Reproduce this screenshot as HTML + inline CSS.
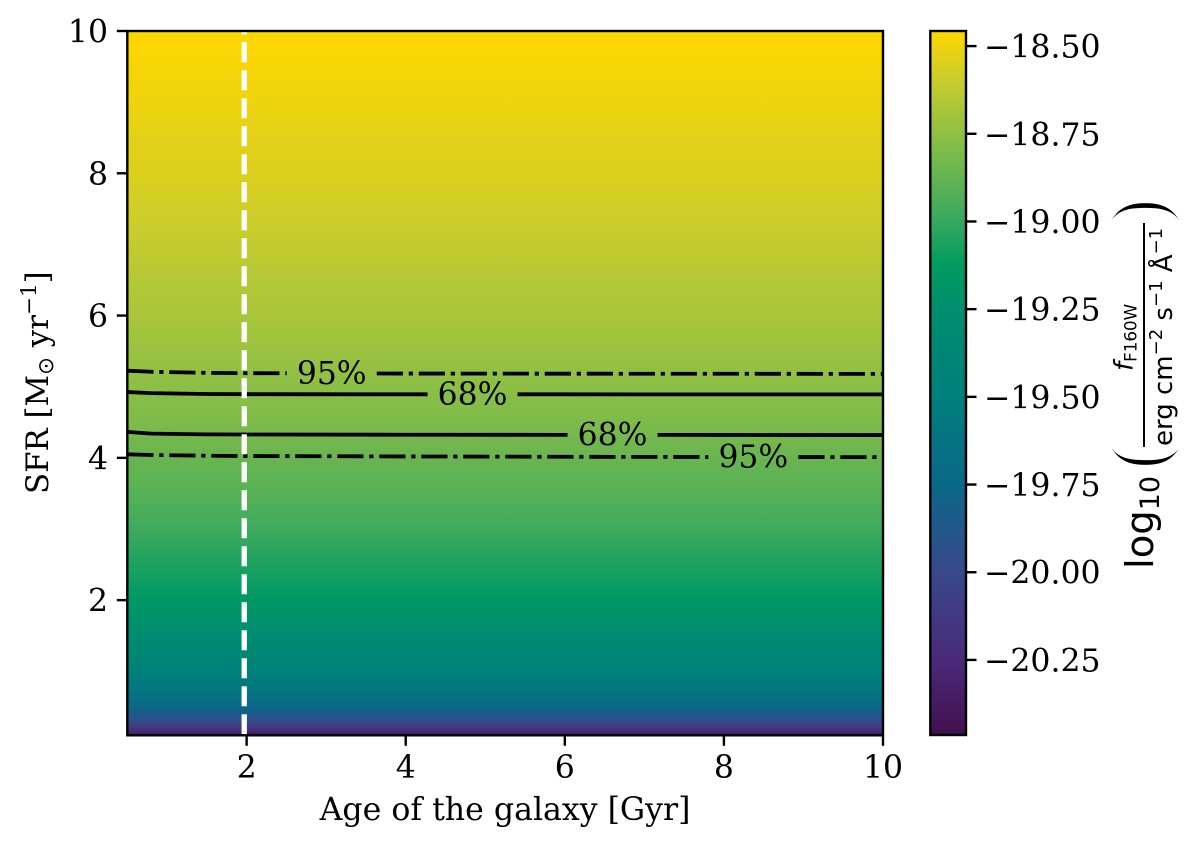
<!DOCTYPE html>
<html lang="en">
<head>
<meta charset="utf-8">
<title>SFR versus galaxy age flux map</title>
<style>
html,body{margin:0;padding:0;background:#fff;width:1200px;height:846px;overflow:hidden}
svg{display:block;filter:blur(0.35px)}
text{font-family:"DejaVu Serif","Liberation Serif",serif;fill:#000}
.s{font-family:"DejaVu Sans","Liberation Sans",sans-serif}
.p{font-family:"Liberation Serif","DejaVu Serif",serif;stroke:#fff;stroke-width:3px}
</style>
</head>
<body>
<svg id="chart" xmlns="http://www.w3.org/2000/svg" width="1200" height="846" viewBox="0 0 1200 846">
  <defs id="defs"></defs>
  <g id="image-layer"></g>
  <g id="contour-layer"></g>
  <g id="line-layer"></g>
  <g id="frame-layer"></g>
  <g id="x-ticks"></g>
  <g id="y-ticks"></g>
  <g id="colorbar"></g>

  <text x="505" y="820" font-size="31.6" text-anchor="middle">Age of the galaxy [Gyr]</text>

  <text transform="translate(48,494) rotate(-90)" font-size="30.8">SFR [M<tspan font-size="21.5" dy="5" class="s">⊙</tspan><tspan dy="-5"> yr</tspan><tspan font-size="21.5" dy="-12">−1</tspan><tspan dy="12">]</tspan></text>

  <g>
    <text class="p" transform="translate(1165,470) rotate(-90)" font-size="82">(</text>
    <text class="p" transform="translate(1165,198) rotate(-90)" font-size="82" text-anchor="end">)</text>
    <text class="s" transform="translate(1153,569) rotate(-90)" font-size="38.5">log<tspan font-size="27" dy="6">10</tspan></text>
    <text class="s" transform="translate(1132.7,371) rotate(-90)" font-size="26"><tspan font-style="italic">f</tspan><tspan font-size="16.7" dy="4">F160W</tspan></text>
    <rect x="1143" y="223" width="2" height="224" fill="#000"></rect>
    <text class="s" transform="translate(1172,446) rotate(-90)" font-size="26">erg cm<tspan font-size="18" dy="-10">−2</tspan><tspan dy="10"> s</tspan><tspan font-size="18" dy="-10">−1</tspan><tspan dy="10"> Å</tspan><tspan font-size="18" dy="-10">−1</tspan></text>
  </g>
</svg>

<script>
// Heatmap rows: SFR level and log10 flux at that level
const sfrRows = [0.1,0.13,0.16,0.2,0.25,0.3,0.4,0.5,0.65,0.8,1,1.25,1.5,2,2.5,3,3.5,4,4.5,5,5.5,6,6.5,7,7.5,8,8.5,9,9.5,10];
const fluxRows = [-20.46,-20.34,-20.25,-20.16,-20.06,-19.98,-19.86,-19.76,-19.64,-19.55,-19.46,-19.36,-19.28,-19.16,-19.06,-18.98,-18.91,-18.86,-18.80,-18.76,-18.72,-18.68,-18.65,-18.61,-18.58,-18.55,-18.53,-18.50,-18.48,-18.46];

// Colour scale anchors
const cmapValues = [-20.464,-20.25,-20.0,-19.75,-19.5,-19.25,-19.12,-19.0,-18.75,-18.6,-18.457];
const cmapColors = ['#440f50','#4a2a78','#38488a','#0a6888','#007f7c','#008e6e','#009c60','#38a860','#8fc044','#c8cc2e','#ffd700'];

// Contours: each has age samples, SFR samples, and a label position
const contourAges = [0.5,0.8,1.5,2,4,6,8,10];
const contour95Upper = [5.225,5.21,5.195,5.19,5.185,5.183,5.182,5.18];
const contour68Upper = [4.925,4.91,4.897,4.895,4.893,4.893,4.892,4.892];
const contour68Lower = [4.365,4.34,4.33,4.328,4.325,4.323,4.322,4.32];
const contour95Lower = [4.05,4.04,4.03,4.025,4.02,4.015,4.012,4.01];
const contourLabels = ['95%','68%','68%','95%'];
const contourLabelAges = [3.07,4.84,6.6,8.37];

// Vertical age marker
const markerAge = 1.97;

// Tick labels
const xTickValues = [2,4,6,8,10];
const yTickValues = [2,4,6,8,10];
const cbTickValues = [-18.5,-18.75,-19,-19.25,-19.5,-19.75,-20,-20.25];
const cbTickLabels = ['−18.50','−18.75','−19.00','−19.25','−19.50','−19.75','−20.00','−20.25'];

// Axis domains
const xDomain = [0.5,10];
const yDomain = [0.1,10];
const cbDomain = [-20.464,-18.457];

const NS = 'http://www.w3.org/2000/svg';
const plot = {l:127.3,r:883,t:31,b:735.3};
const bar = {l:930.3,r:966,t:31,b:735};
const xScale = v => plot.l + (v-xDomain[0])/(xDomain[1]-xDomain[0])*(plot.r-plot.l);
const yScale = v => plot.b - (v-yDomain[0])/(yDomain[1]-yDomain[0])*(plot.b-plot.t);
const cbScale = v => bar.b - (v-cbDomain[0])/(cbDomain[1]-cbDomain[0])*(bar.b-bar.t);

function make(tag, attrs, parent){
  const el = document.createElementNS(NS, tag);
  for (const k in attrs) el.setAttribute(k, attrs[k]);
  parent.appendChild(el);
  return el;
}
function hexToRgb(h){return [1,3,5].map(i=>parseInt(h.substr(i,2),16));}
function colorFor(v){
  if (v<=cmapValues[0]) return cmapColors[0];
  for (let i=1;i<cmapValues.length;i++){
    if (v<=cmapValues[i]){
      const f=(v-cmapValues[i-1])/(cmapValues[i]-cmapValues[i-1]);
      const a=hexToRgb(cmapColors[i-1]), b=hexToRgb(cmapColors[i]);
      return 'rgb('+a.map((c,j)=>Math.round(c+(b[j]-c)*f)).join(',')+')';
    }
  }
  return cmapColors[cmapColors.length-1];
}
const defs = document.getElementById('defs');
function bandGradient(id,y1,y2,c1,c2){
  const g = make('linearGradient',{id:id,gradientUnits:'userSpaceOnUse',x1:0,x2:0,y1:y1,y2:y2},defs);
  make('stop',{offset:0,'stop-color':c1},g);
  make('stop',{offset:1,'stop-color':c2},g);
}

// Heatmap bands
const imageLayer = document.getElementById('image-layer');
for (let i=0;i<sfrRows.length-1;i++){
  const y1=yScale(sfrRows[i]), y2=yScale(sfrRows[i+1]);
  bandGradient('band'+i,y1,y2,colorFor(fluxRows[i]),colorFor(fluxRows[i+1]));
  const r = make('rect',{x:plot.l,y:y2-0.3,width:plot.r-plot.l,height:y1-y2+0.6,fill:'url(#band'+i+')'},imageLayer);
  
  
}

// Contours, broken around their inline labels
const contourLayer = document.getElementById('contour-layer');
const contourSeries = [contour95Upper,contour68Upper,contour68Lower,contour95Lower];
const contourDashes = ['26.2 5.8 4.2 5.8','none','none','26.2 5.8 4.2 5.8'];
const gapPx = 45;
contourSeries.forEach((series,c)=>{
  const lx = xScale(contourLabelAges[c]);
  const pts = contourAges.map((a,i)=>[xScale(a),yScale(series[i])]);
  const at = x => { for(let i=1;i<pts.length;i++){ if(x<=pts[i][0]){const f=(x-pts[i-1][0])/(pts[i][0]-pts[i-1][0]);return pts[i-1][1]+(pts[i][1]-pts[i-1][1])*f;} } return pts[pts.length-1][1]; };
  const left = pts.filter(p=>p[0]<lx-gapPx).concat([[lx-gapPx,at(lx-gapPx)]]);
  const right = [[lx+gapPx,at(lx+gapPx)]].concat(pts.filter(p=>p[0]>lx+gapPx));
  [left,right].forEach(part=>{
    const p = make('polyline',{points:part.map(q=>q[0].toFixed(2)+','+q[1].toFixed(2)).join(' '),fill:'none',stroke:'#000','stroke-width':3.8,'stroke-dasharray':contourDashes[c]},contourLayer);
    
    
  });
  const t = make('text',{x:lx,y:(at(lx)+10.5).toFixed(1),'font-size':31.4,'text-anchor':'middle'},contourLayer);
  t.textContent = contourLabels[c];
  
  
});

// Vertical age marker
const marker = make('line',{x1:xScale(markerAge),x2:xScale(markerAge),y1:plot.t,y2:plot.b,stroke:'#fff','stroke-width':5.3,'stroke-dasharray':'19.9 8.1','stroke-dashoffset':16.7},document.getElementById('line-layer'));



// Frame
const frame = make('rect',{x:plot.l,y:plot.t,width:plot.r-plot.l,height:plot.b-plot.t,fill:'none',stroke:'#000','stroke-width':2.4},document.getElementById('frame-layer'));



// X ticks
const xTicks = document.getElementById('x-ticks');
xTickValues.forEach(v=>{
  const x = xScale(v);
  const l = make('line',{x1:x,x2:x,y1:plot.b,y2:plot.b+10.5,stroke:'#000','stroke-width':2.4},xTicks);
  
  
  const t = make('text',{x:x,y:778,'font-size':31.5,'text-anchor':'middle'},xTicks);
  t.textContent = String(v);
  
  
});

// Y ticks
const yTicks = document.getElementById('y-ticks');
yTickValues.forEach(v=>{
  const y = yScale(v);
  const l = make('line',{x1:plot.l-10.5,x2:plot.l,y1:y,y2:y,stroke:'#000','stroke-width':2.4},yTicks);
  
  
  const t = make('text',{x:108,y:y+11.5,'font-size':31.5,'text-anchor':'end'},yTicks);
  t.textContent = String(v);
  
  
});

// Colorbar
const cb = document.getElementById('colorbar');
for (let i=0;i<cmapValues.length-1;i++){
  const y1=cbScale(cmapValues[i]), y2=cbScale(cmapValues[i+1]);
  bandGradient('cb'+i,y1,y2,cmapColors[i],cmapColors[i+1]);
  const r = make('rect',{x:bar.l,y:y2-0.3,width:bar.r-bar.l,height:y1-y2+0.6,fill:'url(#cb'+i+')'},cb);
  
  
}
const cbFrame = make('rect',{x:bar.l,y:bar.t,width:bar.r-bar.l,height:bar.b-bar.t,fill:'none',stroke:'#000','stroke-width':2.4},cb);


cbTickValues.forEach((v,i)=>{
  const y = cbScale(v);
  const l = make('line',{x1:bar.r,x2:bar.r+10.5,y1:y,y2:y,stroke:'#000','stroke-width':2.4},cb);
  
  
  const t = make('text',{x:984,y:y+11.5,'font-size':31.5},cb);
  t.textContent = cbTickLabels[i];
  
  
});
</script>
</body>
</html>
